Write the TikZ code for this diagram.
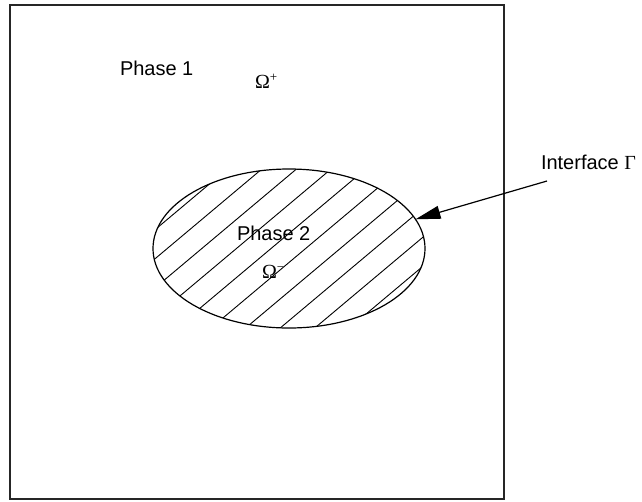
\documentclass[tikz,border=0pt]{standalone}
\usepackage{fontspec}
\setmainfont{Liberation Sans}
\newfontfamily\serifgr{Liberation Serif}
\usetikzlibrary{arrows.meta,shapes.geometric}
\begin{document}
\begin{tikzpicture}[x=1pt,y=-1pt,
  lbl/.style={inner sep=0pt, outer sep=0pt, font=\fontsize{20}{24}\selectfont},
  hatch/.style={line width=0.9pt},
  frame/.style={line width=1.5pt, draw=black!85}]
\useasboundingbox (0,0) rectangle (642,501);
% outer domain
\node[frame, draw, rectangle, inner sep=0pt, outer sep=0pt, minimum width=494pt, minimum height=494pt, anchor=north west] (box) at (10,5) {};
% phase 2 region
\node[ellipse, draw, line width=1.2pt, inner sep=0pt, outer sep=0pt, minimum width=272pt, minimum height=159pt] (ph2) at (289,248.5) {};
\begin{scope}
  \clip (289,248.5) ellipse [x radius=136, y radius=79.5];
  \foreach \k in {0,...,9}{
    \draw[hatch] ({238+34.6*\k-300},{160+252}) -- ({238+34.6*\k+150},{160-126});
  }
\end{scope}
% labels
\node[lbl, anchor=base west] (p1) at (120,75) {Phase 1};
\node[lbl, anchor=base west] (om1) at (255,88) {\serifgr Ω\raisebox{7pt}{\fontsize{13}{13}\selectfont +}};
\node[lbl, anchor=base west] (p2) at (237,240) {Phase 2};
\node[lbl, anchor=base west] (om2) at (262,278) {\serifgr Ω\raisebox{7pt}{\fontsize{13}{13}\selectfont −}};
\node[lbl, anchor=base west] (ifc) at (541,169) {Interface {\serifgr Γ}};
% arrow
\coordinate (astart) at (547,181);
\draw[line width=1.2pt, -{Triangle[length=25pt, width=13pt]}] (astart) -- (ph2.13);
\end{tikzpicture}
\end{document}
